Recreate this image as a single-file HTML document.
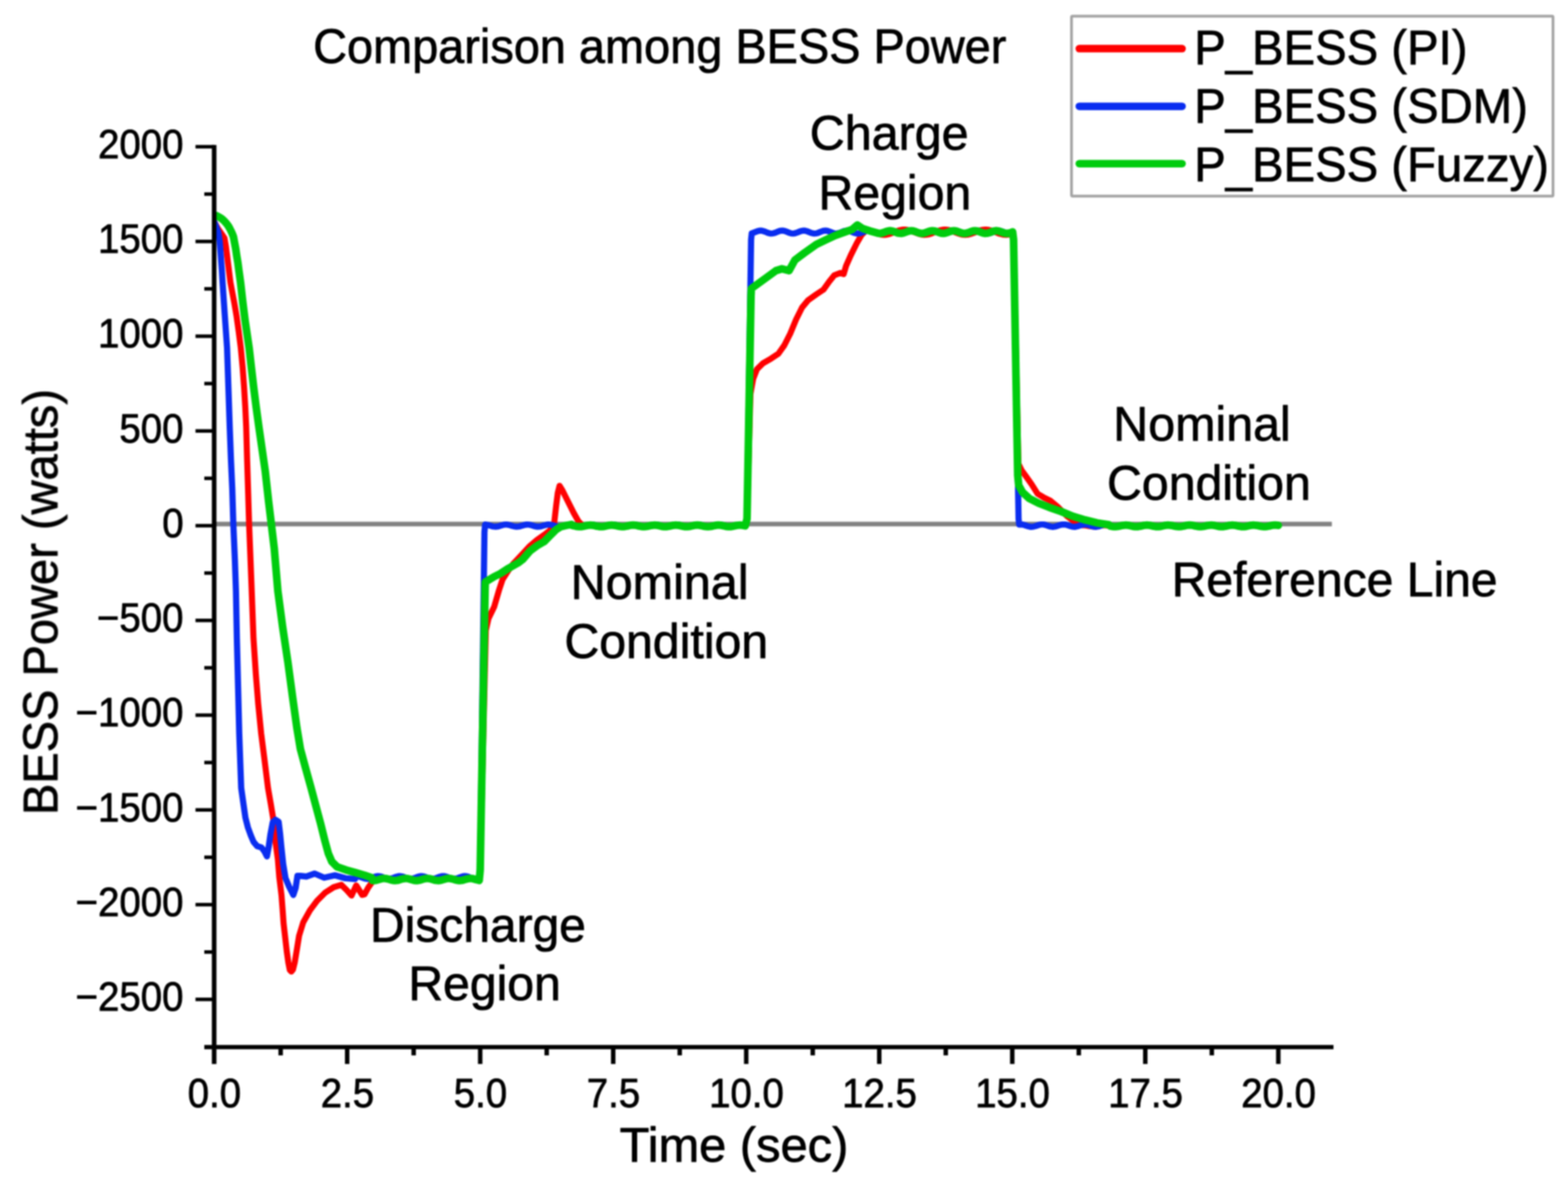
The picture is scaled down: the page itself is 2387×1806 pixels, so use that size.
<!DOCTYPE html>
<html lang="en"><head><meta charset="utf-8"><title>Comparison among BESS Power</title>
<style>html,body{margin:0;padding:0;background:#fff;width:2387px;height:1806px}svg{display:block}text{font-family:"Liberation Sans",sans-serif;fill:#000;stroke:#000;stroke-width:1.1px;stroke-linejoin:round;white-space:pre}.b{font-size:74px}.t{font-size:62.4px}.c{fill:none;stroke-linejoin:round;stroke-linecap:round}</style></head><body>
<svg width="2387" height="1806" viewBox="0 0 2387 1806">
<rect x="0" y="0" width="2387" height="1806" fill="#fff"/>
<g style="filter:blur(1.1px)">
<clipPath id="plot"><rect x="326.0" y="0" width="2387" height="1806"/></clipPath>
<line x1="326.0" y1="798.0" x2="2027.5" y2="798.0" stroke="#828282" stroke-width="7.0"/>
<g clip-path="url(#plot)">
<path class="c" d="M326.0,337.5 L329.2,343.5 L333.0,350.0 L337.2,356.0 L341.7,362.6 L343.9,375.1 L345.3,386.0 L347.1,400.4 L348.9,414.9 L350.8,430.0 L353.6,445.0 L356.8,462.0 L360.0,480.6 L363.4,505.0 L366.6,530.0 L369.4,560.0 L371.6,590.0 L373.4,620.0 L374.8,650.0 L376.2,700.0 L377.6,744.7 L379.2,797.5 L381.4,853.2 L383.2,900.0 L385.9,972.3 L389.5,1026.6 L393.1,1071.8 L397.6,1117.0 L402.2,1153.2 L408.0,1200.0 L412.1,1223.5 L415.7,1245.2 L419.3,1281.4 L423.0,1308.5 L425.2,1336.0 L428.5,1363.0 L430.2,1385.0 L431.7,1406.0 L434.2,1428.0 L436.6,1449.0 L439.0,1466.0 L441.2,1477.0 L443.6,1479.5 L446.0,1476.5 L448.6,1466.0 L451.6,1448.0 L455.3,1425.0 L461.6,1404.5 L471.8,1386.3 L482.6,1371.8 L495.3,1359.1 L508.0,1351.0 L519.7,1347.4 L527.8,1355.5 L535.1,1363.7 L542.3,1348.3 L551.4,1362.7 L555.0,1361.8 L560.4,1351.9 L566.7,1342.9 L568.0,1340.5 L570.0,1340.4 L572.0,1340.2 L574.0,1339.9 L576.0,1339.4 L578.0,1339.0 L580.0,1338.6 L582.0,1338.3 L584.0,1338.1 L585.9,1338.1 L587.9,1338.3 L589.9,1338.6 L591.9,1339.1 L593.9,1339.5 L595.9,1339.9 L597.9,1340.3 L599.9,1340.5 L601.9,1340.5 L603.9,1340.3 L605.9,1340.0 L607.9,1339.6 L609.9,1339.2 L611.9,1338.8 L613.9,1338.4 L615.9,1338.2 L617.8,1338.1 L619.8,1338.2 L621.8,1338.5 L623.8,1338.9 L625.8,1339.3 L627.8,1339.8 L629.8,1340.1 L631.8,1340.4 L633.8,1340.5 L635.8,1340.4 L637.8,1340.2 L639.8,1339.8 L641.8,1339.4 L643.8,1338.9 L645.8,1338.5 L647.8,1338.3 L649.7,1338.1 L651.7,1338.1 L653.7,1338.3 L655.7,1338.7 L657.7,1339.1 L659.7,1339.6 L661.7,1340.0 L663.7,1340.3 L665.7,1340.5 L667.7,1340.5 L669.7,1340.3 L671.7,1340.0 L673.7,1339.6 L675.7,1339.1 L677.7,1338.7 L679.7,1338.4 L681.6,1338.2 L683.6,1338.1 L685.6,1338.2 L687.6,1338.5 L689.6,1338.9 L691.6,1339.3 L693.6,1339.8 L695.6,1340.2 L697.6,1340.4 L699.6,1340.5 L701.6,1340.4 L703.6,1340.2 L705.6,1339.8 L707.6,1339.4 L709.6,1338.9 L711.6,1338.5 L713.5,1338.2 L715.5,1338.1 L717.5,1338.2 L719.5,1338.4 L721.5,1338.7 L723.5,1339.1 L725.5,1339.6 L727.5,1340.0 L729.5,1340.3 L731.0,1325.0 L739.6,960.0 L743.6,942.0 L752.3,924.0 L759.6,898.9 L765.0,882.5 L774.0,868.5 L781.3,858.5 L788.5,851.0 L806.6,831.5 L817.4,822.3 L828.3,814.6 L837.3,807.5 L843.7,796.5 L846.4,772.3 L849.1,750.6 L851.8,739.8 L856.3,747.0 L864.4,763.3 L873.5,781.4 L880.7,794.0 L886.1,799.5 L888.0,801.3 L890.0,800.9 L892.0,800.5 L894.0,800.2 L896.0,799.9 L898.0,799.8 L900.0,799.8 L902.0,800.0 L904.0,800.3 L906.0,800.6 L908.0,801.0 L910.0,801.4 L912.0,801.6 L914.1,801.8 L916.1,801.8 L918.1,801.6 L920.1,801.4 L922.1,801.0 L924.1,800.6 L926.1,800.3 L928.1,800.0 L930.1,799.8 L932.1,799.8 L934.1,799.9 L936.1,800.2 L938.1,800.5 L940.1,800.9 L942.1,801.3 L944.1,801.6 L946.1,801.8 L948.1,801.8 L950.1,801.7 L952.1,801.4 L954.1,801.1 L956.1,800.7 L958.1,800.3 L960.1,800.0 L962.2,799.9 L964.2,799.8 L966.2,799.9 L968.2,800.1 L970.2,800.5 L972.2,800.8 L974.2,801.2 L976.2,801.5 L978.2,801.7 L980.2,801.8 L982.2,801.7 L984.2,801.5 L986.2,801.2 L988.2,800.8 L990.2,800.4 L992.2,800.1 L994.2,799.9 L996.2,799.8 L998.2,799.9 L1000.2,800.1 L1002.2,800.4 L1004.2,800.8 L1006.2,801.1 L1008.2,801.5 L1010.2,801.7 L1012.3,801.8 L1014.3,801.7 L1016.3,801.6 L1018.3,801.2 L1020.3,800.9 L1022.3,800.5 L1024.3,800.2 L1026.3,799.9 L1028.3,799.8 L1030.3,799.8 L1032.3,800.0 L1034.3,800.3 L1036.3,800.7 L1038.3,801.1 L1040.3,801.4 L1042.3,801.7 L1044.3,801.8 L1046.3,801.8 L1048.3,801.6 L1050.3,801.3 L1052.3,801.0 L1054.3,800.6 L1056.3,800.2 L1058.3,800.0 L1060.3,799.8 L1062.4,799.8 L1064.4,800.0 L1066.4,800.2 L1068.4,800.6 L1070.4,801.0 L1072.4,801.3 L1074.4,801.6 L1076.4,801.8 L1078.4,801.8 L1080.4,801.7 L1082.4,801.4 L1084.4,801.0 L1086.4,800.7 L1088.4,800.3 L1090.4,800.0 L1092.4,799.8 L1094.4,799.8 L1096.4,799.9 L1098.4,800.2 L1100.4,800.5 L1102.4,800.9 L1104.4,801.3 L1106.4,801.6 L1108.4,801.8 L1110.5,801.8 L1112.5,801.7 L1114.5,801.5 L1116.5,801.1 L1118.5,800.7 L1120.5,800.4 L1122.5,800.1 L1124.5,799.9 L1126.5,799.8 L1128.5,799.9 L1130.5,800.1 L1132.5,800.4 L1134.5,800.8 L1137.2,790.0 L1142.4,600.0 L1146.6,576.7 L1152.3,562.2 L1161.4,553.2 L1174.0,545.9 L1184.9,538.7 L1193.9,526.0 L1203.0,508.0 L1212.0,486.3 L1221.0,468.2 L1230.1,457.3 L1242.7,448.3 L1253.6,441.0 L1262.6,428.4 L1269.9,419.3 L1278.9,415.7 L1284.3,417.5 L1288.0,404.9 L1295.2,388.6 L1304.2,370.5 L1311.5,357.9 L1315.1,354.2 L1317.0,349.7 L1319.0,349.9 L1321.0,350.3 L1323.0,350.9 L1325.0,351.5 L1327.0,352.3 L1329.0,353.1 L1331.0,353.9 L1333.0,354.7 L1335.0,355.4 L1337.0,356.1 L1339.0,356.7 L1341.1,357.1 L1343.1,357.4 L1345.1,357.6 L1347.1,357.6 L1349.1,357.4 L1351.1,357.0 L1353.1,356.6 L1355.1,355.9 L1357.1,355.2 L1359.1,354.5 L1361.1,353.7 L1363.1,352.9 L1365.1,352.1 L1367.1,351.4 L1369.1,350.7 L1371.1,350.2 L1373.1,349.9 L1375.1,349.7 L1377.1,349.6 L1379.1,349.7 L1381.1,350.0 L1383.1,350.4 L1385.2,351.0 L1387.2,351.7 L1389.2,352.4 L1391.2,353.2 L1393.2,354.0 L1395.2,354.8 L1397.2,355.6 L1399.2,356.2 L1401.2,356.8 L1403.2,357.2 L1405.2,357.5 L1407.2,357.6 L1409.2,357.5 L1411.2,357.3 L1413.2,357.0 L1415.2,356.5 L1417.2,355.8 L1419.2,355.1 L1421.2,354.3 L1423.2,353.5 L1425.2,352.7 L1427.2,351.9 L1429.2,351.2 L1431.3,350.6 L1433.3,350.2 L1435.3,349.8 L1437.3,349.6 L1439.3,349.6 L1441.3,349.8 L1443.3,350.1 L1445.3,350.5 L1447.3,351.1 L1449.3,351.8 L1451.3,352.5 L1453.3,353.3 L1455.3,354.2 L1457.3,354.9 L1459.3,355.7 L1461.3,356.3 L1463.3,356.9 L1465.3,357.3 L1467.3,357.5 L1469.3,357.6 L1471.3,357.5 L1473.3,357.3 L1475.4,356.9 L1477.4,356.4 L1479.4,355.7 L1481.4,355.0 L1483.4,354.2 L1485.4,353.4 L1487.4,352.6 L1489.4,351.8 L1491.4,351.1 L1493.4,350.5 L1495.4,350.1 L1497.4,349.8 L1499.4,349.6 L1501.4,349.6 L1503.4,349.8 L1505.4,350.1 L1507.4,350.6 L1509.4,351.2 L1511.4,351.9 L1513.4,352.7 L1515.4,353.5 L1517.4,354.3 L1519.5,355.1 L1521.5,355.8 L1523.5,356.4 L1525.5,356.9 L1527.5,357.3 L1529.5,357.5 L1531.5,357.6 L1533.5,357.5 L1535.5,357.2 L1537.5,356.8 L1539.5,356.3 L1541.5,355.6 L1543.0,365.0 L1550.3,706.0 L1555.4,716.5 L1562.0,725.5 L1570.4,737.4 L1579.5,751.9 L1588.5,757.3 L1599.3,762.7 L1610.2,771.8 L1624.7,786.3 L1637.3,795.3 L1645.0,799.0 L1647.0,799.8 L1649.0,799.8 L1651.0,799.9 L1653.0,800.2 L1655.0,800.5 L1657.0,800.9 L1659.0,801.2 L1661.0,801.5 L1662.9,801.7 L1664.9,801.8 L1666.9,801.7 L1668.9,801.5 L1670.9,801.2 L1672.9,800.8 L1674.9,800.4 L1676.9,800.1 L1678.9,799.9 L1680.9,799.8 L1682.9,799.9 L1684.9,800.1 L1686.9,800.4 L1688.9,800.7 L1690.9,801.1 L1692.8,801.5 L1694.8,801.7 L1696.8,801.8 L1698.8,801.8 L1700.8,801.6 L1702.8,801.3 L1704.8,800.9 L1706.8,800.5 L1708.8,800.2 L1710.8,799.9 L1712.8,799.8 L1714.8,799.8 L1716.8,800.0 L1718.8,800.3 L1720.8,800.6 L1722.7,801.0 L1724.7,801.4 L1726.7,801.6 L1728.7,801.8 L1730.7,801.8 L1732.7,801.6 L1734.7,801.4 L1736.7,801.0 L1738.7,800.6 L1740.7,800.3 L1742.7,800.0 L1744.7,799.8 L1746.7,799.8 L1748.7,799.9 L1750.7,800.2 L1752.6,800.5 L1754.6,800.9 L1756.6,801.3 L1758.6,801.6 L1760.6,801.8 L1762.6,801.8 L1764.6,801.7 L1766.6,801.5 L1768.6,801.1 L1770.6,800.8 L1772.6,800.4 L1774.6,800.1 L1776.6,799.9 L1778.6,799.8 L1780.6,799.9 L1782.5,800.1 L1784.5,800.4 L1786.5,800.8 L1788.5,801.2 L1790.5,801.5 L1792.5,801.7 L1794.5,801.8 L1796.5,801.7 L1798.5,801.5 L1800.5,801.2 L1802.5,800.9 L1804.5,800.5 L1806.5,800.2 L1808.5,799.9 L1810.5,799.8 L1812.4,799.8 L1814.4,800.0 L1816.4,800.3 L1818.4,800.7 L1820.4,801.0 L1822.4,801.4 L1824.4,801.7 L1826.4,801.8 L1828.4,801.8 L1830.4,801.6 L1832.4,801.3 L1834.4,801.0 L1836.4,800.6 L1838.4,800.3 L1840.4,800.0 L1842.3,799.8 L1844.3,799.8 L1846.3,799.9 L1848.3,800.2 L1850.3,800.6 L1852.3,800.9 L1854.3,801.3 L1856.3,801.6 L1858.3,801.8 L1860.3,801.8 L1862.3,801.7 L1864.3,801.4 L1866.3,801.1 L1868.3,800.7 L1870.3,800.4 L1872.2,800.1 L1874.2,799.9 L1876.2,799.8 L1878.2,799.9 L1880.2,800.1 L1882.2,800.4 L1884.2,800.8 L1886.2,801.2 L1888.2,801.5 L1890.2,801.7 L1892.2,801.8 L1894.2,801.7 L1896.2,801.5 L1898.2,801.2 L1900.2,800.8 L1902.1,800.5 L1904.1,800.1 L1906.1,799.9 L1908.1,799.8 L1910.1,799.8 L1912.1,800.0 L1914.1,800.3 L1916.1,800.7 L1918.1,801.1 L1920.1,801.4 L1922.1,801.7 L1924.1,801.8 L1926.1,801.8 L1928.1,801.6 L1930.1,801.3 L1932.0,801.0 L1934.0,800.6 L1936.0,800.2 L1938.0,800.0 L1940.0,799.8 L1942.0,799.8 L1944.0,800.0 L1946.0,800.2" stroke="#ff0000" stroke-width="9.2"/>
<path class="c" d="M326.0,337.5 L327.2,340.4 L332.3,353.4 L334.5,367.9 L335.6,382.3 L336.6,396.8 L337.7,411.3 L338.8,430.0 L342.2,480.0 L345.7,530.0 L347.7,590.0 L349.7,650.0 L351.6,700.0 L353.6,744.7 L355.2,797.5 L357.6,853.2 L359.2,900.0 L360.6,972.3 L362.4,1044.7 L364.2,1117.0 L365.8,1162.2 L367.2,1200.0 L370.3,1222.0 L373.6,1245.2 L377.4,1260.0 L381.9,1272.3 L386.0,1282.0 L391.5,1288.6 L398.0,1290.5 L402.5,1296.5 L406.3,1304.0 L409.0,1290.0 L411.8,1270.0 L415.2,1252.0 L419.5,1248.3 L424.2,1251.5 L426.3,1268.7 L428.4,1290.4 L431.1,1315.7 L434.7,1337.4 L440.1,1350.1 L446.5,1362.7 L450.1,1351.9 L452.8,1333.8 L457.3,1333.8 L466.4,1334.7 L479.0,1330.2 L493.5,1336.5 L509.8,1332.9 L526.0,1337.4 L540.5,1338.5 L542.0,1334.2 L544.0,1334.3 L546.0,1334.6 L548.0,1335.2 L550.0,1335.9 L552.0,1336.6 L554.0,1337.3 L556.0,1337.9 L558.0,1338.2 L560.0,1338.2 L561.9,1337.9 L563.9,1337.4 L565.9,1336.7 L567.9,1336.0 L569.9,1335.3 L571.9,1334.7 L573.9,1334.3 L575.9,1334.2 L577.9,1334.4 L579.9,1334.8 L581.9,1335.5 L583.9,1336.2 L585.9,1337.0 L587.9,1337.6 L589.9,1338.0 L591.9,1338.2 L593.9,1338.1 L595.9,1337.7 L597.9,1337.1 L599.8,1336.4 L601.8,1335.6 L603.8,1335.0 L605.8,1334.5 L607.8,1334.2 L609.8,1334.3 L611.8,1334.6 L613.8,1335.1 L615.8,1335.8 L617.8,1336.6 L619.8,1337.3 L621.8,1337.8 L623.8,1338.1 L625.8,1338.2 L627.8,1337.9 L629.8,1337.5 L631.8,1336.8 L633.8,1336.0 L635.8,1335.3 L637.7,1334.7 L639.7,1334.3 L641.7,1334.2 L643.7,1334.4 L645.7,1334.8 L647.7,1335.4 L649.7,1336.1 L651.7,1336.9 L653.7,1337.5 L655.7,1338.0 L657.7,1338.2 L659.7,1338.1 L661.7,1337.8 L663.7,1337.2 L665.7,1336.5 L667.7,1335.7 L669.7,1335.0 L671.7,1334.5 L673.6,1334.2 L675.6,1334.2 L677.6,1334.5 L679.6,1335.1 L681.6,1335.7 L683.6,1336.5 L685.6,1337.2 L687.6,1337.8 L689.6,1338.1 L691.6,1338.2 L693.6,1338.0 L695.6,1337.5 L697.6,1336.9 L699.6,1336.1 L701.6,1335.4 L703.6,1334.8 L705.6,1334.3 L707.6,1334.2 L709.6,1334.3 L711.5,1334.7 L713.5,1335.3 L715.5,1336.1 L717.5,1336.8 L719.5,1337.5 L721.5,1338.0 L723.5,1338.2 L725.5,1338.1 L727.5,1337.8 L729.5,1337.2 L731.0,1320.0 L737.5,810.0 L738.5,798.8 L740.5,799.0 L742.5,799.4 L744.5,799.9 L746.5,800.5 L748.5,801.1 L750.5,801.6 L752.5,801.9 L754.5,802.0 L756.5,801.8 L758.5,801.5 L760.5,800.9 L762.5,800.3 L764.5,799.7 L766.5,799.2 L768.5,798.9 L770.5,798.8 L772.5,798.9 L774.5,799.3 L776.5,799.8 L778.5,800.4 L780.5,801.0 L782.5,801.5 L784.5,801.9 L786.5,802.0 L788.5,801.9 L790.5,801.6 L792.5,801.1 L794.5,800.5 L796.5,799.9 L798.5,799.3 L800.5,799.0 L802.5,798.8 L804.5,798.9 L806.5,799.2 L808.5,799.6 L810.5,800.2 L812.5,800.9 L814.5,801.4 L816.5,801.8 L818.5,802.0 L820.5,801.9 L822.5,801.7 L824.5,801.2 L826.5,800.6 L828.5,800.0 L830.5,799.5 L832.5,799.0 L834.5,798.8 L836.5,798.8 L838.5,799.1 L840.5,799.5 L842.5,800.1 L844.5,800.7 L846.5,801.3 L848.5,801.7 L850.5,802.0 L852.5,802.0 L854.5,801.8 L856.5,801.3 L858.5,800.8 L860.5,800.2 L862.5,799.6 L864.5,799.1 L866.5,798.9 L868.5,798.8 L870.5,799.0 L872.5,799.4 L874.5,799.9 L876.5,800.5 L878.5,801.1 L880.5,801.6 L882.5,801.9 L884.5,802.0 L886.5,801.8 L888.5,801.5 L890.5,800.9 L892.5,800.3 L894.5,799.7 L896.5,799.2 L898.5,798.9 L900.5,798.8 L902.5,798.9 L904.5,799.3 L906.5,799.8 L908.5,800.4 L910.5,801.0 L912.5,801.5 L914.5,801.9 L916.5,802.0 L918.5,801.9 L920.5,801.6 L922.5,801.1 L924.5,800.5 L926.5,799.9 L928.5,799.3 L930.5,799.0 L932.5,798.8 L934.5,798.9 L936.5,799.2 L938.5,799.6 L940.5,800.2 L942.5,800.9 L944.5,801.4 L946.5,801.8 L948.5,802.0 L950.5,801.9 L952.5,801.7 L954.5,801.2 L956.5,800.6 L958.5,800.0 L960.5,799.5 L962.5,799.0 L964.5,798.8 L966.5,798.8 L968.5,799.1 L970.5,799.5 L972.5,800.1 L974.5,800.7 L976.5,801.3 L978.5,801.7 L980.5,802.0 L982.5,802.0 L984.5,801.8 L986.5,801.3 L988.5,800.8 L990.5,800.2 L992.5,799.6 L994.5,799.1 L996.5,798.9 L998.5,798.8 L1000.5,799.0 L1002.5,799.4 L1004.5,799.9 L1006.5,800.5 L1008.5,801.1 L1010.5,801.6 L1012.5,801.9 L1014.5,802.0 L1016.5,801.8 L1018.5,801.5 L1020.5,800.9 L1022.5,800.3 L1024.5,799.7 L1026.5,799.2 L1028.5,798.9 L1030.5,798.8 L1032.5,798.9 L1034.5,799.3 L1036.5,799.8 L1038.5,800.4 L1040.5,801.0 L1042.5,801.5 L1044.5,801.9 L1046.5,802.0 L1048.5,801.9 L1050.5,801.6 L1052.5,801.1 L1054.5,800.5 L1056.5,799.9 L1058.5,799.3 L1060.5,799.0 L1062.5,798.8 L1064.5,798.9 L1066.5,799.2 L1068.5,799.6 L1070.5,800.2 L1072.5,800.9 L1074.5,801.4 L1076.5,801.8 L1078.5,802.0 L1080.5,801.9 L1082.5,801.7 L1084.5,801.2 L1086.5,800.6 L1088.5,800.0 L1090.5,799.5 L1092.5,799.0 L1094.5,798.8 L1096.5,798.8 L1098.5,799.1 L1100.5,799.5 L1102.5,800.1 L1104.5,800.7 L1106.5,801.3 L1108.5,801.7 L1110.5,802.0 L1112.5,802.0 L1114.5,801.8 L1116.5,801.3 L1118.5,800.8 L1120.5,800.2 L1122.5,799.6 L1124.5,799.1 L1126.5,798.9 L1128.5,798.8 L1130.5,799.0 L1132.5,799.4 L1134.5,799.9 L1137.2,790.0 L1143.4,365.0 L1144.4,355.2 L1146.4,354.7 L1148.4,353.9 L1150.4,353.1 L1152.4,352.3 L1154.4,351.7 L1156.4,351.3 L1158.4,351.2 L1160.4,351.5 L1162.4,352.0 L1164.4,352.7 L1166.4,353.5 L1168.3,354.3 L1170.3,355.0 L1172.3,355.5 L1174.3,355.6 L1176.3,355.4 L1178.3,355.0 L1180.3,354.3 L1182.3,353.5 L1184.3,352.6 L1186.3,351.9 L1188.3,351.4 L1190.3,351.2 L1192.3,351.3 L1194.3,351.7 L1196.3,352.3 L1198.3,353.1 L1200.3,354.0 L1202.3,354.7 L1204.3,355.3 L1206.3,355.6 L1208.3,355.6 L1210.3,355.2 L1212.2,354.6 L1214.2,353.9 L1216.2,353.0 L1218.2,352.3 L1220.2,351.6 L1222.2,351.3 L1224.2,351.2 L1226.2,351.5 L1228.2,352.0 L1230.2,352.7 L1232.2,353.6 L1234.2,354.4 L1236.2,355.0 L1238.2,355.5 L1240.2,355.6 L1242.2,355.4 L1244.2,355.0 L1246.2,354.3 L1248.2,353.4 L1250.2,352.6 L1252.2,351.9 L1254.2,351.4 L1256.1,351.2 L1258.1,351.3 L1260.1,351.7 L1262.1,352.4 L1264.1,353.1 L1266.1,354.0 L1268.1,354.7 L1270.1,355.3 L1272.1,355.6 L1274.1,355.5 L1276.1,355.2 L1278.1,354.6 L1280.1,353.9 L1282.1,353.0 L1284.1,352.2 L1286.1,351.6 L1288.1,351.3 L1290.1,351.2 L1292.1,351.5 L1294.1,352.0 L1296.1,352.8 L1298.1,353.6 L1300.0,354.4 L1302.0,355.0 L1304.0,355.5 L1306.0,355.6 L1308.0,355.4 L1310.0,354.9 L1312.0,354.2 L1314.0,353.4 L1316.0,352.6 L1318.0,351.9 L1320.0,351.4 L1322.0,351.2 L1324.0,351.3 L1326.0,351.7 L1328.0,352.4 L1330.0,353.2 L1332.0,354.0 L1334.0,354.7 L1336.0,355.3 L1338.0,355.6 L1340.0,355.5 L1342.0,355.2 L1343.9,354.6 L1345.9,353.8 L1347.9,353.0 L1349.9,352.2 L1351.9,351.6 L1353.9,351.3 L1355.9,351.2 L1357.9,351.5 L1359.9,352.0 L1361.9,352.8 L1363.9,353.6 L1365.9,354.4 L1367.9,355.1 L1369.9,355.5 L1371.9,355.6 L1373.9,355.4 L1375.9,354.9 L1377.9,354.2 L1379.9,353.4 L1381.9,352.6 L1383.9,351.9 L1385.9,351.4 L1387.8,351.2 L1389.8,351.3 L1391.8,351.7 L1393.8,352.4 L1395.8,353.2 L1397.8,354.0 L1399.8,354.8 L1401.8,355.3 L1403.8,355.6 L1405.8,355.5 L1407.8,355.2 L1409.8,354.6 L1411.8,353.8 L1413.8,353.0 L1415.8,352.2 L1417.8,351.6 L1419.8,351.3 L1421.8,351.2 L1423.8,351.5 L1425.8,352.0 L1427.8,352.8 L1429.8,353.6 L1431.7,354.4 L1433.7,355.1 L1435.7,355.5 L1437.7,355.6 L1439.7,355.4 L1441.7,354.9 L1443.7,354.2 L1445.7,353.4 L1447.7,352.6 L1449.7,351.9 L1451.7,351.4 L1453.7,351.2 L1455.7,351.3 L1457.7,351.8 L1459.7,352.4 L1461.7,353.2 L1463.7,354.0 L1465.7,354.8 L1467.7,355.3 L1469.7,355.6 L1471.7,355.5 L1473.7,355.2 L1475.6,354.6 L1477.6,353.8 L1479.6,353.0 L1481.6,352.2 L1483.6,351.6 L1485.6,351.3 L1487.6,351.2 L1489.6,351.5 L1491.6,352.1 L1493.6,352.8 L1495.6,353.6 L1497.6,354.4 L1499.6,355.1 L1501.6,355.5 L1503.6,355.6 L1505.6,355.4 L1507.6,354.9 L1509.6,354.2 L1511.6,353.4 L1513.6,352.5 L1515.6,351.9 L1517.6,351.4 L1519.5,351.2 L1521.5,351.3 L1523.5,351.8 L1525.5,352.4 L1527.5,353.2 L1529.5,354.1 L1531.5,354.8 L1533.5,355.3 L1535.5,355.6 L1537.5,355.5 L1539.5,355.2 L1541.5,354.5 L1543.0,365.0 L1550.6,790.0 L1551.5,798.8 L1553.5,798.6 L1555.5,798.7 L1557.5,799.0 L1559.5,799.5 L1561.5,800.2 L1563.5,800.9 L1565.6,801.5 L1567.6,802.0 L1569.6,802.2 L1571.6,802.1 L1573.6,801.8 L1575.6,801.3 L1577.6,800.7 L1579.6,800.0 L1581.6,799.3 L1583.6,798.9 L1585.6,798.6 L1587.6,798.6 L1589.6,798.9 L1591.6,799.4 L1593.7,800.1 L1595.7,800.8 L1597.7,801.4 L1599.7,801.9 L1601.7,802.2 L1603.7,802.2 L1605.7,801.9 L1607.7,801.4 L1609.7,800.8 L1611.7,800.1 L1613.7,799.5 L1615.7,798.9 L1617.7,798.7 L1619.7,798.6 L1621.8,798.8 L1623.8,799.3 L1625.8,799.9 L1627.8,800.6 L1629.8,801.3 L1631.8,801.8 L1633.8,802.1 L1635.8,802.2 L1637.8,802.0 L1639.8,801.5 L1641.8,800.9 L1643.8,800.2 L1645.8,799.6 L1647.8,799.0 L1649.9,798.7 L1651.9,798.6 L1653.9,798.8 L1655.9,799.2 L1657.9,799.8 L1659.9,800.5 L1661.9,801.2 L1663.9,801.7 L1665.9,802.1 L1667.9,802.2 L1669.9,802.0 L1671.9,801.6 L1673.9,801.1 L1675.9,800.4 L1678.0,799.7 L1680.0,799.1 L1682.0,798.7 L1684.0,798.6 L1686.0,798.7 L1688.0,799.1 L1690.0,799.7 L1692.0,801.2 L1694.0,801.4 L1696.0,801.6 L1698.0,801.6 L1700.0,801.5 L1702.0,801.3 L1704.0,801.0 L1706.0,800.7 L1708.0,800.4 L1710.0,800.2 L1712.0,800.0 L1714.0,800.0 L1716.0,800.1 L1718.0,800.3 L1720.0,800.6 L1722.0,800.9 L1724.0,801.2 L1726.0,801.4 L1728.0,801.6 L1730.0,801.6 L1732.0,801.5 L1734.0,801.3 L1736.0,801.1 L1738.0,800.8 L1740.0,800.5 L1742.0,800.2 L1744.0,800.1 L1746.0,800.0 L1748.0,800.1 L1750.0,800.2 L1752.0,800.5 L1754.0,800.8 L1756.0,801.1 L1758.0,801.3 L1760.0,801.5 L1762.0,801.6 L1764.0,801.6 L1766.0,801.4 L1768.0,801.2 L1770.0,800.9 L1772.0,800.6 L1774.0,800.3 L1776.0,800.1 L1778.0,800.0 L1780.0,800.0 L1782.0,800.2 L1784.0,800.4 L1786.0,800.7 L1788.0,801.0 L1790.0,801.3 L1792.0,801.5 L1794.0,801.6 L1796.0,801.6 L1798.0,801.4 L1800.0,801.2 L1802.0,800.9 L1804.0,800.6 L1806.0,800.3 L1808.0,800.1 L1810.0,800.0 L1812.0,800.0 L1814.0,800.1 L1816.0,800.3 L1818.0,800.6 L1820.0,800.9 L1822.0,801.2 L1824.0,801.4 L1826.0,801.6 L1828.0,801.6 L1830.0,801.5 L1832.0,801.3 L1834.0,801.0 L1836.0,800.7 L1838.0,800.4 L1840.0,800.2 L1842.0,800.0 L1844.0,800.0 L1846.0,800.1 L1848.0,800.3 L1850.0,800.6 L1852.0,800.9 L1854.0,801.2 L1856.0,801.4 L1858.0,801.6 L1860.0,801.6 L1862.0,801.5 L1864.0,801.3 L1866.0,801.1 L1868.0,800.8 L1870.0,800.5 L1872.0,800.2 L1874.0,800.1 L1876.0,800.0 L1878.0,800.1 L1880.0,800.2 L1882.0,800.5 L1884.0,800.8 L1886.0,801.1 L1888.0,801.3 L1890.0,801.5 L1892.0,801.6 L1894.0,801.6 L1896.0,801.4 L1898.0,801.2 L1900.0,800.9 L1902.0,800.6 L1904.0,800.3 L1906.0,800.1 L1908.0,800.0 L1910.0,800.0 L1912.0,800.2 L1914.0,800.4 L1916.0,800.7 L1918.0,801.0 L1920.0,801.3 L1922.0,801.5 L1924.0,801.6 L1926.0,801.6 L1928.0,801.4 L1930.0,801.2 L1932.0,800.9 L1934.0,800.6 L1936.0,800.3 L1938.0,800.1 L1940.0,800.0 L1942.0,800.0 L1944.0,800.1 L1946.0,800.3" stroke="#0a2df0" stroke-width="9.4"/>
<path class="c" d="M326.0,327.4 L330.0,328.6 L334.5,331.0 L338.2,333.6 L341.7,336.8 L344.8,340.3 L347.5,344.0 L349.8,348.0 L351.8,352.0 L353.7,356.2 L355.4,360.6 L357.0,369.3 L358.8,378.7 L360.4,389.6 L362.2,400.4 L363.6,411.3 L365.1,422.1 L366.2,430.0 L369.6,460.0 L373.1,487.9 L379.3,530.0 L382.7,560.0 L386.2,590.0 L390.0,620.0 L394.1,650.0 L403.8,717.5 L408.8,762.7 L413.0,797.5 L417.5,835.1 L423.0,900.0 L430.2,954.2 L438.3,1008.5 L445.6,1062.7 L451.9,1108.0 L457.3,1140.5 L464.6,1167.6 L473.6,1200.0 L480.8,1227.1 L488.1,1254.2 L494.4,1279.6 L499.8,1299.5 L505.2,1312.1 L513.2,1320.0 L527.0,1324.8 L540.8,1328.6 L555.0,1332.8 L565.8,1336.5 L567.0,1340.8 L569.0,1340.9 L571.0,1340.7 L573.0,1340.3 L575.0,1339.8 L577.0,1339.2 L579.0,1338.6 L581.0,1338.1 L583.0,1337.8 L585.1,1337.7 L587.1,1337.8 L589.1,1338.2 L591.1,1338.7 L593.1,1339.3 L595.1,1339.9 L597.1,1340.4 L599.1,1340.8 L601.1,1340.9 L603.1,1340.8 L605.1,1340.5 L607.1,1340.0 L609.1,1339.4 L611.1,1338.8 L613.1,1338.2 L615.1,1337.9 L617.2,1337.7 L619.2,1337.8 L621.2,1338.1 L623.2,1338.5 L625.2,1339.1 L627.2,1339.7 L629.2,1340.3 L631.2,1340.7 L633.2,1340.9 L635.2,1340.9 L637.2,1340.6 L639.2,1340.2 L641.2,1339.6 L643.2,1339.0 L645.2,1338.4 L647.2,1338.0 L649.3,1337.7 L651.3,1337.7 L653.3,1337.9 L655.3,1338.3 L657.3,1338.9 L659.3,1339.5 L661.3,1340.1 L663.3,1340.6 L665.3,1340.8 L667.3,1340.9 L669.3,1340.7 L671.3,1340.3 L673.3,1339.8 L675.3,1339.2 L677.3,1338.6 L679.3,1338.1 L681.4,1337.8 L683.4,1337.7 L685.4,1337.8 L687.4,1338.2 L689.4,1338.7 L691.4,1339.3 L693.4,1339.9 L695.4,1340.4 L697.4,1340.8 L699.4,1340.9 L701.4,1340.8 L703.4,1340.5 L705.4,1340.0 L707.4,1339.4 L709.4,1338.8 L711.4,1338.3 L713.5,1337.9 L715.5,1337.7 L717.5,1337.8 L719.5,1338.0 L721.5,1338.5 L723.5,1339.1 L725.5,1339.7 L727.5,1340.2 L729.5,1340.7 L731.0,1325.0 L738.5,895.0 L738.8,886.3 L752.3,878.1 L761.4,873.6 L774.0,865.5 L788.5,857.3 L795.7,851.9 L806.6,839.2 L817.4,831.1 L828.3,824.8 L837.3,815.7 L846.4,806.7 L853.6,802.2 L860.8,800.4 L869.9,798.6 L871.0,800.1 L873.0,800.5 L875.0,800.9 L877.0,801.4 L879.0,801.7 L881.0,801.9 L883.0,802.0 L885.0,801.9 L887.0,801.6 L889.0,801.2 L891.0,800.7 L893.0,800.3 L895.0,799.9 L897.0,799.7 L898.9,799.6 L900.9,799.7 L902.9,800.0 L904.9,800.3 L906.9,800.8 L908.9,801.3 L910.9,801.6 L912.9,801.9 L914.9,802.0 L916.9,801.9 L918.9,801.7 L920.9,801.3 L922.9,800.9 L924.9,800.4 L926.9,800.0 L928.9,799.7 L930.9,799.6 L932.9,799.7 L934.9,799.9 L936.9,800.2 L938.9,800.7 L940.9,801.1 L942.9,801.5 L944.9,801.8 L946.9,802.0 L948.9,802.0 L950.8,801.8 L952.8,801.4 L954.8,801.0 L956.8,800.5 L958.8,800.1 L960.8,799.8 L962.8,799.6 L964.8,799.6 L966.8,799.8 L968.8,800.1 L970.8,800.5 L972.8,801.0 L974.8,801.4 L976.8,801.8 L978.8,802.0 L980.8,802.0 L982.8,801.8 L984.8,801.5 L986.8,801.1 L988.8,800.7 L990.8,800.2 L992.8,799.9 L994.8,799.7 L996.8,799.6 L998.8,799.7 L1000.8,800.0 L1002.8,800.4 L1004.7,800.9 L1006.7,801.3 L1008.7,801.7 L1010.7,801.9 L1012.7,802.0 L1014.7,801.9 L1016.7,801.6 L1018.7,801.2 L1020.7,800.8 L1022.7,800.3 L1024.7,800.0 L1026.7,799.7 L1028.7,799.6 L1030.7,799.7 L1032.7,799.9 L1034.7,800.3 L1036.7,800.7 L1038.7,801.2 L1040.7,801.6 L1042.7,801.9 L1044.7,802.0 L1046.7,801.9 L1048.7,801.7 L1050.7,801.4 L1052.7,800.9 L1054.7,800.5 L1056.6,800.1 L1058.6,799.8 L1060.6,799.6 L1062.6,799.6 L1064.6,799.8 L1066.6,800.2 L1068.6,800.6 L1070.6,801.1 L1072.6,801.5 L1074.6,801.8 L1076.6,802.0 L1078.6,802.0 L1080.6,801.8 L1082.6,801.5 L1084.6,801.0 L1086.6,800.6 L1088.6,800.2 L1090.6,799.8 L1092.6,799.6 L1094.6,799.6 L1096.6,799.8 L1098.6,800.1 L1100.6,800.5 L1102.6,800.9 L1104.6,801.4 L1106.6,801.7 L1108.5,801.9 L1110.5,802.0 L1112.5,801.9 L1114.5,801.6 L1116.5,801.2 L1118.5,800.7 L1120.5,800.3 L1122.5,799.9 L1124.5,799.7 L1126.5,799.6 L1128.5,799.7 L1130.5,800.0 L1132.5,800.4 L1134.5,800.8 L1137.2,790.0 L1143.3,450.0 L1143.8,439.4 L1161.4,426.6 L1181.3,412.1 L1190.3,409.4 L1201.2,412.1 L1210.2,395.8 L1224.7,385.0 L1242.7,372.3 L1257.2,365.3 L1271.7,358.6 L1284.3,354.0 L1297.0,349.6 L1305.1,342.6 L1313.3,348.0 L1324.1,351.6 L1336.8,355.2 L1338.0,355.4 L1340.0,355.4 L1342.0,355.0 L1344.0,354.5 L1346.0,353.8 L1348.0,353.0 L1350.0,352.3 L1352.0,351.7 L1354.0,351.4 L1356.0,351.4 L1358.0,351.7 L1359.9,352.3 L1361.9,353.0 L1363.9,353.7 L1365.9,354.5 L1367.9,355.0 L1369.9,355.3 L1371.9,355.4 L1373.9,355.1 L1375.9,354.6 L1377.9,353.9 L1379.9,353.1 L1381.9,352.4 L1383.9,351.8 L1385.9,351.5 L1387.9,351.4 L1389.9,351.6 L1391.9,352.1 L1393.9,352.8 L1395.9,353.6 L1397.9,354.3 L1399.8,354.9 L1401.8,355.3 L1403.8,355.4 L1405.8,355.2 L1407.8,354.7 L1409.8,354.0 L1411.8,353.3 L1413.8,352.5 L1415.8,351.9 L1417.8,351.5 L1419.8,351.4 L1421.8,351.6 L1423.8,352.0 L1425.8,352.7 L1427.8,353.4 L1429.8,354.2 L1431.8,354.8 L1433.8,355.3 L1435.8,355.4 L1437.8,355.2 L1439.8,354.8 L1441.7,354.2 L1443.7,353.4 L1445.7,352.7 L1447.7,352.0 L1449.7,351.6 L1451.7,351.4 L1453.7,351.5 L1455.7,351.9 L1457.7,352.5 L1459.7,353.3 L1461.7,354.1 L1463.7,354.7 L1465.7,355.2 L1467.7,355.4 L1469.7,355.3 L1471.7,354.9 L1473.7,354.3 L1475.7,353.6 L1477.7,352.8 L1479.7,352.1 L1481.6,351.6 L1483.6,351.4 L1485.6,351.5 L1487.6,351.8 L1489.6,352.4 L1491.6,353.1 L1493.6,353.9 L1495.6,354.6 L1497.6,355.1 L1499.6,355.4 L1501.6,355.3 L1503.6,355.0 L1505.6,354.4 L1507.6,353.7 L1509.6,353.0 L1511.6,352.3 L1513.6,351.7 L1515.6,351.4 L1517.6,351.4 L1519.6,351.7 L1521.5,352.3 L1523.5,353.0 L1525.5,353.8 L1527.5,354.5 L1529.5,355.0 L1531.5,355.4 L1533.5,355.4 L1535.5,355.1 L1537.5,354.6 L1539.5,353.9 L1541.5,353.1 L1543.0,365.0 L1549.3,724.0 L1550.8,739.0 L1556.6,749.6 L1567.0,759.1 L1581.3,766.4 L1597.5,772.7 L1615.6,779.0 L1633.7,786.3 L1651.8,791.7 L1669.9,796.2 L1688.0,798.9 L1690.0,801.0 L1692.0,801.4 L1694.0,801.8 L1696.0,802.0 L1698.0,802.0 L1700.0,801.8 L1702.0,801.5 L1704.0,801.1 L1706.0,800.7 L1708.0,800.2 L1710.0,799.9 L1712.0,799.7 L1714.0,799.6 L1716.0,799.7 L1718.0,800.0 L1720.0,800.4 L1722.0,800.9 L1724.0,801.3 L1726.0,801.7 L1728.0,801.9 L1730.0,802.0 L1732.0,801.9 L1734.0,801.6 L1736.0,801.2 L1738.0,800.8 L1740.0,800.3 L1742.0,799.9 L1744.0,799.7 L1746.0,799.6 L1748.0,799.7 L1750.0,799.9 L1752.0,800.3 L1754.0,800.8 L1756.0,801.2 L1758.0,801.6 L1760.0,801.9 L1762.0,802.0 L1764.0,801.9 L1766.0,801.7 L1768.0,801.3 L1770.0,800.9 L1772.0,800.4 L1774.0,800.0 L1776.0,799.7 L1778.0,799.6 L1780.0,799.7 L1782.0,799.9 L1784.0,800.2 L1786.0,800.7 L1788.0,801.1 L1790.0,801.5 L1792.0,801.8 L1794.0,802.0 L1796.0,802.0 L1798.0,801.8 L1800.0,801.4 L1802.0,801.0 L1804.0,800.5 L1806.0,800.1 L1808.0,799.8 L1810.0,799.6 L1812.0,799.6 L1814.0,799.8 L1816.0,800.1 L1818.0,800.5 L1820.0,801.0 L1822.0,801.4 L1824.0,801.8 L1826.0,802.0 L1828.0,802.0 L1830.0,801.8 L1832.0,801.5 L1834.0,801.1 L1836.0,800.7 L1838.0,800.2 L1840.0,799.9 L1842.0,799.7 L1844.0,799.6 L1846.0,799.7 L1848.0,800.0 L1850.0,800.4 L1852.0,800.9 L1854.0,801.3 L1856.0,801.7 L1858.0,801.9 L1860.0,802.0 L1862.0,801.9 L1864.0,801.6 L1866.0,801.2 L1868.0,800.8 L1870.0,800.3 L1872.0,799.9 L1874.0,799.7 L1876.0,799.6 L1878.0,799.7 L1880.0,799.9 L1882.0,800.3 L1884.0,800.8 L1886.0,801.2 L1888.0,801.6 L1890.0,801.9 L1892.0,802.0 L1894.0,801.9 L1896.0,801.7 L1898.0,801.3 L1900.0,800.9 L1902.0,800.4 L1904.0,800.0 L1906.0,799.7 L1908.0,799.6 L1910.0,799.7 L1912.0,799.9 L1914.0,800.2 L1916.0,800.7 L1918.0,801.1 L1920.0,801.5 L1922.0,801.8 L1924.0,802.0 L1926.0,802.0 L1928.0,801.8 L1930.0,801.4 L1932.0,801.0 L1934.0,800.5 L1936.0,800.1 L1938.0,799.8 L1940.0,799.6 L1942.0,799.6 L1944.0,799.8 L1946.0,800.1" stroke="#00cc0e" stroke-width="11.6"/>
</g>
<g stroke="#000" fill="none">
<line x1="326.0" y1="220.74" x2="326.0" y2="1620.20" stroke-width="7.0"/>
<line x1="311.00" y1="1594.5" x2="2030.0" y2="1594.5" stroke-width="6.3"/>
<line x1="297.60" y1="223.44" x2="326.00" y2="223.44" stroke-width="5.4"/>
<line x1="311.00" y1="295.57" x2="326.00" y2="295.57" stroke-width="5.4"/>
<line x1="297.60" y1="367.70" x2="326.00" y2="367.70" stroke-width="5.4"/>
<line x1="311.00" y1="439.84" x2="326.00" y2="439.84" stroke-width="5.4"/>
<line x1="297.60" y1="511.97" x2="326.00" y2="511.97" stroke-width="5.4"/>
<line x1="311.00" y1="584.10" x2="326.00" y2="584.10" stroke-width="5.4"/>
<line x1="297.60" y1="656.24" x2="326.00" y2="656.24" stroke-width="5.4"/>
<line x1="311.00" y1="728.37" x2="326.00" y2="728.37" stroke-width="5.4"/>
<line x1="297.60" y1="800.50" x2="326.00" y2="800.50" stroke-width="5.4"/>
<line x1="311.00" y1="872.63" x2="326.00" y2="872.63" stroke-width="5.4"/>
<line x1="297.60" y1="944.76" x2="326.00" y2="944.76" stroke-width="5.4"/>
<line x1="311.00" y1="1016.90" x2="326.00" y2="1016.90" stroke-width="5.4"/>
<line x1="297.60" y1="1089.03" x2="326.00" y2="1089.03" stroke-width="5.4"/>
<line x1="311.00" y1="1161.16" x2="326.00" y2="1161.16" stroke-width="5.4"/>
<line x1="297.60" y1="1233.30" x2="326.00" y2="1233.30" stroke-width="5.4"/>
<line x1="311.00" y1="1305.43" x2="326.00" y2="1305.43" stroke-width="5.4"/>
<line x1="297.60" y1="1377.56" x2="326.00" y2="1377.56" stroke-width="5.4"/>
<line x1="311.00" y1="1449.69" x2="326.00" y2="1449.69" stroke-width="5.4"/>
<line x1="297.60" y1="1521.83" x2="326.00" y2="1521.83" stroke-width="5.4"/>
<line x1="427.25" y1="1594.50" x2="427.25" y2="1607.10" stroke-width="6.8"/>
<line x1="528.50" y1="1594.50" x2="528.50" y2="1620.20" stroke-width="6.8"/>
<line x1="629.75" y1="1594.50" x2="629.75" y2="1607.10" stroke-width="6.8"/>
<line x1="731.00" y1="1594.50" x2="731.00" y2="1620.20" stroke-width="6.8"/>
<line x1="832.25" y1="1594.50" x2="832.25" y2="1607.10" stroke-width="6.8"/>
<line x1="933.50" y1="1594.50" x2="933.50" y2="1620.20" stroke-width="6.8"/>
<line x1="1034.75" y1="1594.50" x2="1034.75" y2="1607.10" stroke-width="6.8"/>
<line x1="1136.00" y1="1594.50" x2="1136.00" y2="1620.20" stroke-width="6.8"/>
<line x1="1237.25" y1="1594.50" x2="1237.25" y2="1607.10" stroke-width="6.8"/>
<line x1="1338.50" y1="1594.50" x2="1338.50" y2="1620.20" stroke-width="6.8"/>
<line x1="1439.75" y1="1594.50" x2="1439.75" y2="1607.10" stroke-width="6.8"/>
<line x1="1541.00" y1="1594.50" x2="1541.00" y2="1620.20" stroke-width="6.8"/>
<line x1="1642.25" y1="1594.50" x2="1642.25" y2="1607.10" stroke-width="6.8"/>
<line x1="1743.50" y1="1594.50" x2="1743.50" y2="1620.20" stroke-width="6.8"/>
<line x1="1844.75" y1="1594.50" x2="1844.75" y2="1607.10" stroke-width="6.8"/>
<line x1="1946.00" y1="1594.50" x2="1946.00" y2="1620.20" stroke-width="6.8"/>
</g>
<text class="t" x="149.25" y="240.74" textLength="130.07" lengthAdjust="spacingAndGlyphs">2000</text>
<text class="t" x="149.25" y="385.00" textLength="130.07" lengthAdjust="spacingAndGlyphs">1500</text>
<text class="t" x="149.25" y="529.27" textLength="130.07" lengthAdjust="spacingAndGlyphs">1000</text>
<text class="t" x="181.70" y="673.53" textLength="97.56" lengthAdjust="spacingAndGlyphs">500</text>
<text class="t" x="246.89" y="817.80" textLength="32.52" lengthAdjust="spacingAndGlyphs">0</text>
<text class="t" x="147.49" y="962.06" textLength="131.70" lengthAdjust="spacingAndGlyphs">−500</text>
<text class="t" x="115.04" y="1106.33" textLength="164.22" lengthAdjust="spacingAndGlyphs">−1000</text>
<text class="t" x="115.04" y="1250.60" textLength="164.22" lengthAdjust="spacingAndGlyphs">−1500</text>
<text class="t" x="115.04" y="1394.86" textLength="164.22" lengthAdjust="spacingAndGlyphs">−2000</text>
<text class="t" x="115.04" y="1539.12" textLength="164.22" lengthAdjust="spacingAndGlyphs">−2500</text>
<text class="t" x="285.66" y="1686.30" textLength="81.28" lengthAdjust="spacingAndGlyphs">0.0</text>
<text class="t" x="488.16" y="1686.30" textLength="81.28" lengthAdjust="spacingAndGlyphs">2.5</text>
<text class="t" x="690.66" y="1686.30" textLength="81.28" lengthAdjust="spacingAndGlyphs">5.0</text>
<text class="t" x="893.16" y="1686.30" textLength="81.28" lengthAdjust="spacingAndGlyphs">7.5</text>
<text class="t" x="1079.40" y="1686.30" textLength="113.80" lengthAdjust="spacingAndGlyphs">10.0</text>
<text class="t" x="1281.90" y="1686.30" textLength="113.80" lengthAdjust="spacingAndGlyphs">12.5</text>
<text class="t" x="1484.40" y="1686.30" textLength="113.80" lengthAdjust="spacingAndGlyphs">15.0</text>
<text class="t" x="1686.90" y="1686.30" textLength="113.80" lengthAdjust="spacingAndGlyphs">17.5</text>
<text class="t" x="1889.40" y="1686.30" textLength="113.80" lengthAdjust="spacingAndGlyphs">20.0</text>
<text class="b" x="476.73" y="96.30" textLength="1055.32" lengthAdjust="spacingAndGlyphs">Comparison among BESS Power</text>
<text class="b" x="943.24" y="1769.20" textLength="348.33" lengthAdjust="spacingAndGlyphs">Time (sec)</text>
<text class="b" x="1232.72" y="228.10" textLength="241.69" lengthAdjust="spacingAndGlyphs">Charge</text>
<text class="b" x="1245.93" y="319.00" textLength="232.67" lengthAdjust="spacingAndGlyphs">Region</text>
<text class="b" x="868.69" y="912.40" textLength="270.93" lengthAdjust="spacingAndGlyphs">Nominal</text>
<text class="b" x="859.23" y="1001.80" textLength="310.15" lengthAdjust="spacingAndGlyphs">Condition</text>
<text class="b" x="1694.81" y="671.20" textLength="270.20" lengthAdjust="spacingAndGlyphs">Nominal</text>
<text class="b" x="1685.33" y="761.20" textLength="310.15" lengthAdjust="spacingAndGlyphs">Condition</text>
<text class="b" x="1783.75" y="908.30" textLength="496.04" lengthAdjust="spacingAndGlyphs">Reference Line</text>
<text class="b" x="563.36" y="1434.40" textLength="328.50" lengthAdjust="spacingAndGlyphs">Discharge</text>
<text class="b" x="621.64" y="1522.70" textLength="232.25" lengthAdjust="spacingAndGlyphs">Region</text>
<text class="b" transform="translate(87.3,1235.4) rotate(-90)" x="-5.73" y="0" textLength="648.75" lengthAdjust="spacingAndGlyphs">BESS Power (watts)</text>
<rect x="1631.2" y="24.6" width="732.9999999999998" height="274.0" rx="1.5" ry="1.5" fill="#fff" stroke="#a4a4a4" stroke-width="4.2"/>
<line x1="1643.0" y1="74.1" x2="1799.5" y2="74.1" stroke="#ff0000" stroke-width="11.5" stroke-linecap="round"/>
<text class="b" x="1817.94" y="97.90" textLength="416.05" lengthAdjust="spacingAndGlyphs">P_BESS (PI)</text>
<line x1="1643.0" y1="161.9" x2="1799.5" y2="161.9" stroke="#0a2df0" stroke-width="11.5" stroke-linecap="round"/>
<text class="b" x="1817.94" y="186.70" textLength="508.00" lengthAdjust="spacingAndGlyphs">P_BESS (SDM)</text>
<line x1="1643.0" y1="249.3" x2="1799.5" y2="249.3" stroke="#00cc0e" stroke-width="11.5" stroke-linecap="round"/>
<text class="b" x="1817.94" y="275.60" textLength="540.02" lengthAdjust="spacingAndGlyphs">P_BESS (Fuzzy)</text>
</g></svg></body></html>
